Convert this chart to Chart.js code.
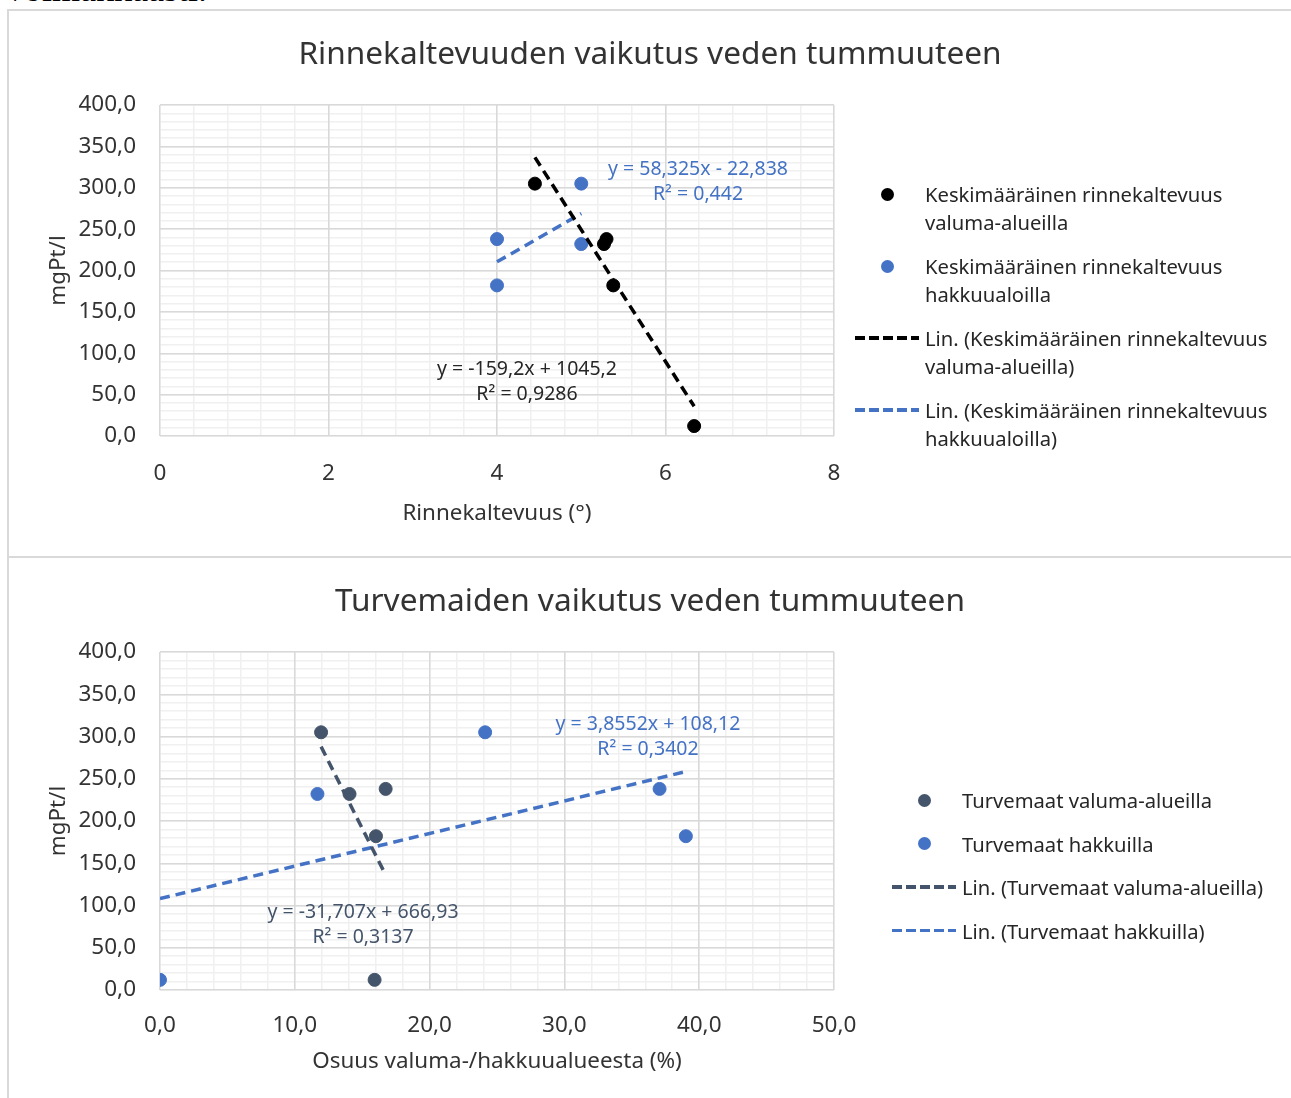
<!DOCTYPE html>
<html lang="fi">
<head>
<meta charset="UTF-8">
<title>Veden tummuus</title>
<script src="https://cdn.jsdelivr.net/npm/chart.js"></script>
<style>
  body {
    margin: 0;
    background: #fff;
    width: 1291px;
    height: 1098px;
    overflow: hidden;
    position: relative;
    font-family: "Noto Sans", sans-serif;
  }
  .lead {
    position: absolute;
    left: 6px;
    top: -29px;
    font-family: "Liberation Serif", serif;
    font-size: 36px;
    line-height: 36px;
    color: #000;
  }
  .frame {
    position: absolute;
    left: 7px;
    top: 9px;
    width: 1300px;
    height: 1100px;
    border: 2px solid #d9d9d9;
  }
  .divider {
    position: absolute;
    left: 7px;
    top: 556px;
    width: 1300px;
    height: 2px;
    background: #d9d9d9;
  }
  canvas { position: absolute; }
  .legend {
    position: absolute;
    font-size: 20.2px;
    line-height: 28px;
    color: #262626;
  }
  .legend .item { position: relative; }
  .legend .sym-point {
    position: absolute;
    top: 7.5px;
    width: 13px;
    height: 13px;
    border-radius: 50%;
  }
  .legend .sym-line {
    position: absolute;
    top: 12px;
    height: 3.5px;
  }
</style>
</head>
<body>

<div class="lead">voimakkaasti.</div>
<div class="frame"></div>
<div class="divider"></div>

<canvas id="slopeChart" width="1282" height="545" style="left:9px; top:11px;"></canvas>
<canvas id="peatChart" width="1282" height="540" style="left:9px; top:558px;"></canvas>

<div class="legend" id="slopeLegend" style="left:925px; top:180px; width:355px;"></div>
<div class="legend" id="peatLegend" style="left:962px; top:786px; width:330px; white-space:nowrap;"></div>

<script>
  // --- Rinnekaltevuus ---
  const slopeNames = ['Keskimääräinen rinnekaltevuus valuma-alueilla', 'Keskimääräinen rinnekaltevuus hakkuualoilla'];
  const slopeCatchX = [4.45, 5.30, 5.27, 5.38, 6.34];
  const slopeCatchY = [305, 238, 232, 182, 12];
  const slopeCutX = [4.0, 4.0, 5.0, 5.0];
  const slopeCutY = [238, 182, 305, 232];
  // [kulmakerroin, vakiotermi, R²]
  const slopeCatchFit = [-159.2, 1045.2, 0.9286];
  const slopeCutFit = [58.325, -22.838, 0.442];

  // --- Turvemaat ---
  const peatNames = ['Turvemaat valuma-alueilla', 'Turvemaat hakkuilla'];
  const peatCatchX = [11.95, 14.06, 16.74, 16.02, 15.92];
  const peatCatchY = [305, 232, 238, 182, 12];
  const peatCutX = [24.12, 11.68, 37.06, 39.01, 0.0];
  const peatCutY = [305, 232, 238, 182, 12];
  const peatCatchFit = [-31.707, 666.93, 0.3137];
  const peatCutFit = [3.8552, 108.12, 0.3402];

  const FONT = '"Noto Sans", sans-serif';
  const TEXT = '#333333';
  Chart.defaults.font.family = FONT;

  const fmt = (v, d) => (d == null ? String(v) : v.toFixed(d)).replace('.', ',');

  function eqText(fit) {
    const [a, b] = fit;
    return 'y = ' + fmt(a) + 'x ' + (b < 0 ? '- ' : '+ ') + fmt(Math.abs(b));
  }

  function pts(xs, ys) {
    return xs.map((x, i) => ({ x: x, y: ys[i] }));
  }

  // lineaarinen trendi datan x-välillä
  function trend(xs, fit) {
    const lo = Math.min(...xs), hi = Math.max(...xs);
    return [{ x: lo, y: fit[0] * lo + fit[1] }, { x: hi, y: fit[0] * hi + fit[1] }];
  }

  // yhtälöt ja R² kuvaajan sisään
  const eqLabels = {
    id: 'eqLabels',
    afterDatasetsDraw(chart, args, opts) {
      const { ctx, scales } = chart;
      ctx.save();
      ctx.font = opts.size + 'px ' + FONT;
      ctx.textAlign = 'center';
      ctx.textBaseline = 'middle';
      opts.items.forEach(it => {
        const px = scales.x.getPixelForValue(it.x);
        const py = scales.y.getPixelForValue(it.y);
        ctx.fillStyle = it.color;
        ctx.fillText(eqText(it.fit), px, py);
        ctx.fillText('R² = ' + fmt(it.fit[2]), px, py + opts.gap);
      });
      ctx.restore();
    }
  };

  function buildLegend(el, items, gap) {
    items.forEach((it, i) => {
      const row = document.createElement('div');
      row.className = 'item';
      if (i < items.length - 1) row.style.marginBottom = gap + 'px';
      const sym = document.createElement('span');
      if (it.kind === 'point') {
        sym.className = 'sym-point';
        sym.style.left = '-44.5px';
        sym.style.background = it.color;
      } else {
        sym.className = 'sym-line';
        sym.style.left = '-70px';
        sym.style.width = '64px';
        sym.style.background = 'repeating-linear-gradient(to right, ' + it.color + ' 0 10px, transparent 10px 14px)';
      }
      row.appendChild(sym);
      row.appendChild(document.createTextNode(it.text));
      el.appendChild(row);
    });
  }

  function drawChart(id, o) {
    const tickFont = { family: FONT, size: 22.5 };
    const axisFont = { family: FONT, size: 22.4 };
    const ds = (name, xs, ys, color) => ({
      label: name, data: pts(xs, ys), backgroundColor: color, borderColor: color,
      pointRadius: 6.5, pointHoverRadius: 6.5, order: 1
    });
    const tl = (xs, fit, color) => ({
      type: 'line', data: trend(xs, fit), borderColor: color, borderWidth: 3.5,
      borderDash: [10, 6], pointRadius: 0, fill: false, showLine: true, order: 0
    });

    return new Chart(document.getElementById(id), {
      type: 'scatter',
      data: {
        datasets: [
          ds(o.names[0], o.catchX, o.catchY, o.colors[0]),
          ds(o.names[1], o.cutX, o.cutY, o.colors[1]),
          tl(o.catchX, o.catchFit, o.colors[0]),
          tl(o.cutX, o.cutFit, o.colors[1])
        ]
      },
      options: {
        responsive: false,
        animation: false,
        events: [],
        layout: { padding: 0 },
        plugins: {
          legend: { display: false },
          tooltip: { enabled: false },
          title: {
            display: true,
            text: o.title,
            color: TEXT,
            font: { family: FONT, size: 31.6, weight: 'normal' },
            padding: { top: 25, bottom: 31.1 }
          },
          eqLabels: { size: 19.5, gap: 25.5, items: o.eqs }
        },
        scales: {
          x: {
            type: 'linear', position: 'bottom', min: o.xMin, max: o.xMax,
            ticks: { stepSize: o.xStep, padding: o.xTickPad, color: TEXT, font: tickFont, callback: o.xFmt },
            grid: { color: '#d9d9d9', lineWidth: 1.5, drawTicks: false },
            border: { display: false },
            title: { display: true, text: o.xTitle, color: TEXT, font: axisFont, padding: { top: 0, bottom: o.xTitlePad } },
            afterFit: s => { s.height = o.xHeight; }
          },
          xMinor: {
            type: 'linear', position: 'bottom', min: o.xMin, max: o.xMax,
            ticks: { display: false, stepSize: o.xMinor },
            grid: { color: '#f0f0f0', lineWidth: 1.5, drawTicks: false, z: -2 },
            border: { display: false },
            afterFit: s => { s.height = 0; }
          },
          y: {
            type: 'linear', position: 'left', min: 0, max: 400,
            ticks: { stepSize: 50, padding: 24, color: TEXT, font: tickFont, callback: v => fmt(v, 1) },
            grid: { color: '#d9d9d9', lineWidth: 1.5, drawTicks: false },
            border: { display: false },
            title: { display: true, text: 'mgPt/l', color: TEXT, font: axisFont, padding: { top: 36, bottom: 0 } },
            afterFit: s => { s.width = 151; }
          },
          yMinor: {
            type: 'linear', position: 'left', min: 0, max: 400,
            ticks: { display: false, stepSize: 10 },
            grid: { color: '#f0f0f0', lineWidth: 1.5, drawTicks: false, z: -2 },
            border: { display: false },
            afterFit: s => { s.width = 0; }
          },
          // tyhjä tila selitteelle oikealla
          side: {
            type: 'linear', position: 'right',
            ticks: { display: false },
            grid: { display: false },
            border: { display: false },
            afterFit: s => { s.width = 457; }
          }
        }
      },
      plugins: [eqLabels]
    });
  }

  drawChart('slopeChart', {
    title: 'Rinnekaltevuuden vaikutus veden tummuuteen',
    names: slopeNames,
    colors: ['#000000', '#4472C4'],
    catchX: slopeCatchX, catchY: slopeCatchY, catchFit: slopeCatchFit,
    cutX: slopeCutX, cutY: slopeCutY, cutFit: slopeCutFit,
    xMin: 0, xMax: 8, xStep: 2, xMinor: 0.4,
    xFmt: v => String(v),
    xTitle: 'Rinnekaltevuus (°)',
    xHeight: 120, xTitlePad: 29, xTickPad: 24,
    eqs: [
      { fit: slopeCutFit, x: 6.386, y: 322.7, color: '#4472C4' },
      { fit: slopeCatchFit, x: 4.356, y: 81, color: '#262626' }
    ]
  });

  drawChart('peatChart', {
    title: 'Turvemaiden vaikutus veden tummuuteen',
    names: peatNames,
    colors: ['#44546A', '#4472C4'],
    catchX: peatCatchX, catchY: peatCatchY, catchFit: peatCatchFit,
    cutX: peatCutX, cutY: peatCutY, cutFit: peatCutFit,
    xMin: 0, xMax: 50, xStep: 10, xMinor: 2,
    xFmt: v => fmt(v, 1),
    xTitle: 'Osuus valuma-/hakkuualueesta (%)',
    xHeight: 108, xTitlePad: 23, xTickPad: 22,
    eqs: [
      { fit: peatCutFit, x: 36.2, y: 314.8, color: '#4472C4' },
      { fit: peatCatchFit, x: 15.06, y: 92.3, color: '#44546A' }
    ]
  });

  buildLegend(document.getElementById('slopeLegend'), [
    { kind: 'point', color: '#000000', text: slopeNames[0] },
    { kind: 'point', color: '#4472C4', text: slopeNames[1] },
    { kind: 'line', color: '#000000', text: 'Lin. (' + slopeNames[0] + ')' },
    { kind: 'line', color: '#4472C4', text: 'Lin. (' + slopeNames[1] + ')' }
  ], 16);

  buildLegend(document.getElementById('peatLegend'), [
    { kind: 'point', color: '#44546A', text: peatNames[0] },
    { kind: 'point', color: '#4472C4', text: peatNames[1] },
    { kind: 'line', color: '#44546A', text: 'Lin. (' + peatNames[0] + ')' },
    { kind: 'line', color: '#4472C4', text: 'Lin. (' + peatNames[1] + ')' }
  ], 15.5);
</script>

</body>
</html>
